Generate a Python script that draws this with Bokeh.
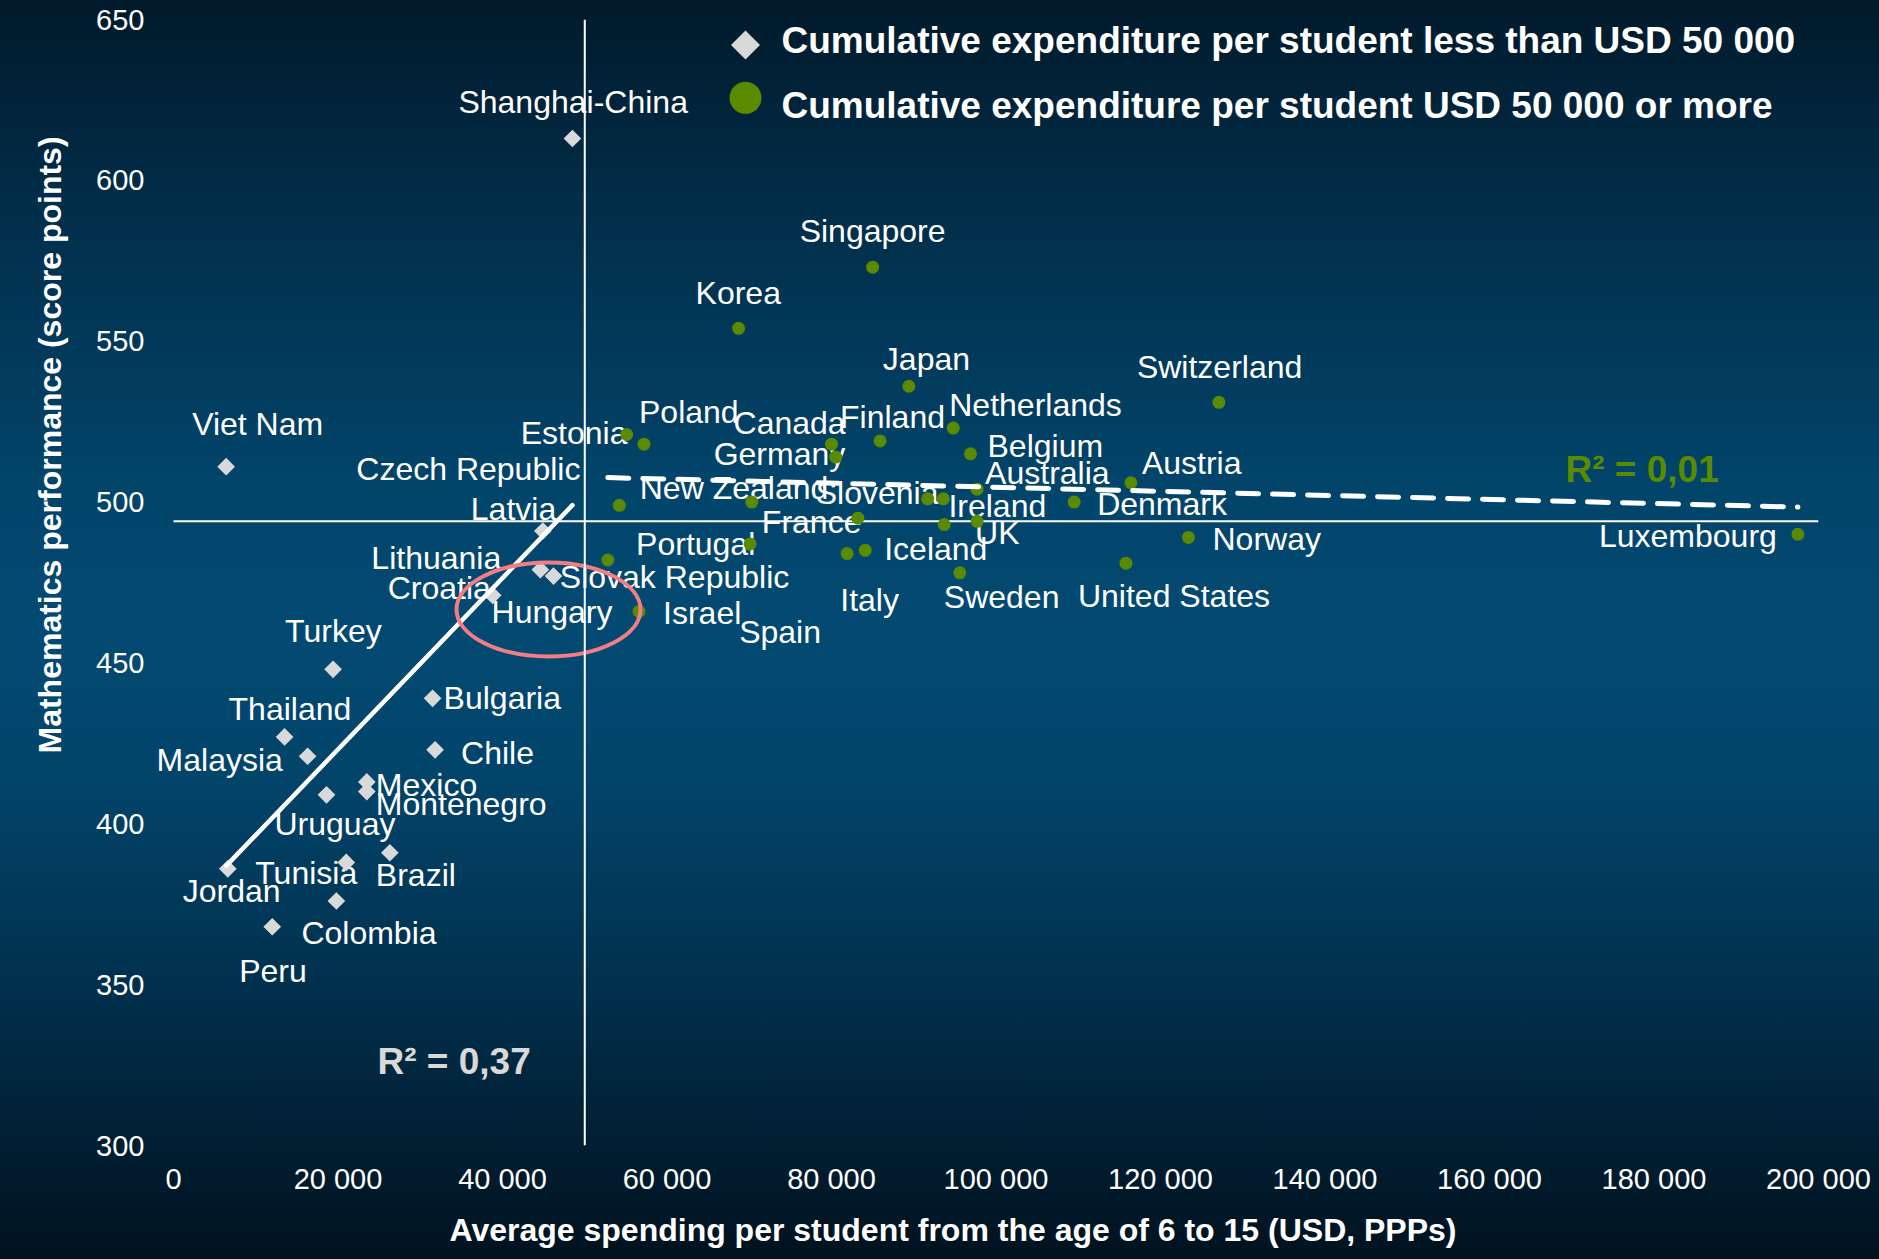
import numpy as np
from bokeh.plotting import figure
from bokeh.models import (ColumnDataSource, Range1d, FixedTicker, Span, Label, Title,
                          InlineStyleSheet)
from bokeh.core.properties import value
from bokeh.embed import file_html
from bokeh.resources import INLINE

# ---------------- data ----------------
# Countries whose cumulative spending per student is below USD 50 000
names_low = ["Shanghai-China", "Viet Nam", "Latvia", "Lithuania", "Hungary", "Croatia",
             "Turkey", "Bulgaria", "Thailand", "Chile", "Malaysia", "Mexico", "Montenegro",
             "Uruguay", "Brazil", "Tunisia", "Jordan", "Colombia", "Peru"]
spend_low = [48500, 6400, 44900, 44600, 46200, 38800, 19400, 31500, 13500, 31800,
             16300, 23500, 23500, 18600, 26300, 21000, 6600, 19800, 12000]
score_low = [613, 511, 491, 479, 477, 471, 448, 439, 427, 423,
             421, 413, 410, 409, 391, 388, 386, 376, 368]

# Countries spending USD 50 000 or more
names_high = ["Czech Republic", "Slovak Republic", "Israel", "Estonia", "Poland", "Canada",
              "Finland", "Netherlands", "Germany", "Belgium", "Australia", "Austria",
              "New Zealand", "Slovenia", "Ireland", "Denmark", "France", "UK", "Portugal",
              "Iceland", "Italy", "Spain", "Sweden", "United States", "Norway", "Luxembourg",
              "Switzerland", "Japan", "Korea", "Singapore"]
spend_high = [54200, 52800, 56600, 55100, 57200, 80000, 85900, 94800, 80500, 96900,
              97700, 116400, 70300, 91700, 93600, 109500, 83200, 97700, 70100, 93700,
              84100, 81900, 95600, 115800, 123400, 197500, 127100, 89400, 68700, 85000]
score_high = [499, 482, 466, 521, 518, 518, 519, 523, 514, 515,
              504, 506, 500, 501, 501, 500, 495, 494, 487, 493,
              485, 484, 478, 481, 489, 490, 531, 536, 554, 573]

oecd_average = 494
spend_threshold = 50000
x_ticks = list(range(0, 200001, 20000))
y_ticks = list(range(300, 651, 50))
legend_labels = ["Cumulative expenditure per student less than USD 50 000",
                 "Cumulative expenditure per student USD 50 000 or more"]
r2_labels = ["R\u00b2 = 0,37", "R\u00b2 = 0,01"]
x_title = "Average spending per student from the age of 6 to 15 (USD, PPPs)"
y_title = "Mathematics performance (score points)"

# ---------------- label placement (pixel offsets from each point) ----------------
dx_low = [-114, -34, -72, -169, -62, -105, -48, 11, -56, 26, -151, 9, 9, -52, -14, -91, -45, -35, -33]
dy_low = [37, 43, 22, 12, -36, 7, 38, 0, 28, -3, -4, -3, -12, -29, -22, -11, -22, -32, -44]
dx_high = [-263, -48, 24, -106, -5, -98, -40, -4, -122, 17, 8, 11, -112, -112, 5, 23, -96, -2,
           -114, -60, -25, -108, -16, -48, 24, -199, -82, -26, -43, -73]
dy_high = [36, -17, -2, 2, 32, 21, 24, 23, 3, 8, 16, 20, 14, 6, -7, -2, -4, -12,
           0, -24, -50, -78, -24, -33, -2, -2, 35, 27, 35, 36]

# ---------------- layout ----------------
W, H = 1879, 1259
BL, BR, BT, BB = 150, 61, 19, 112          # frame edges: 150 .. 1818 (x), 19 .. 1147 (y)
X0, X1, Y0, Y1 = -2800, 200000, 300, 650   # a little room left of 0 for long names
FW, FH = W - BL - BR, H - BT - BB

FONT_NAME = "Liberation Sans"
FONT = value(FONT_NAME)
WHITE = "#ffffff"
GREY = "#d9d9d9"
GREEN = "#5a8a00"
PINK = "#f27d85"


def data_x(px):
    return X0 + (px - BL) / FW * (X1 - X0)


def data_y(py):
    return Y1 - (py - BT) / FH * (Y1 - Y0)


def fit_line(xs, ys):
    xs = np.asarray(xs, dtype=float)
    ys = np.asarray(ys, dtype=float)
    slope, intercept = np.polyfit(xs, ys, 1)
    ends = np.array([xs.min(), xs.max()])
    return ends, slope * ends + intercept


def add_label(px, py, text, size, color):
    p.add_layout(Label(x=data_x(px), y=data_y(py), text=text, text_font=FONT_NAME,
                       text_font_size=size, text_font_style="bold",
                       text_color=color, text_align="left", text_baseline="middle"))


background = InlineStyleSheet(css="""
:host {
  background: linear-gradient(to bottom,
     #011a2b 0%, #022e4a 17%, #02446a 38%, #034a72 50%,
     #02446a 62%, #012e4a 80%, #011d30 92%, #01121f 100%);
}
""")

p = figure(width=W, height=H, output_backend="svg", toolbar_location=None,
           x_range=Range1d(X0, X1), y_range=Range1d(Y0, Y1),
           min_border_left=BL, min_border_right=BR, min_border_top=BT, min_border_bottom=BB,
           stylesheets=[background])
p.background_fill_alpha = 0
p.border_fill_alpha = 0
p.outline_line_color = None
p.grid.visible = False

for ax in (p.xaxis[0], p.yaxis[0]):
    ax.axis_line_color = None
    ax.major_tick_line_color = None
    ax.minor_tick_line_color = None
    ax.major_tick_out = 0
    ax.major_tick_in = 0
    ax.minor_tick_out = 0
    ax.major_label_text_font = FONT_NAME
    ax.major_label_text_font_size = "29px"
    ax.major_label_text_color = WHITE

p.xaxis.ticker = FixedTicker(ticks=x_ticks)
p.xaxis.major_label_overrides = {t: f"{t:,}".replace(",", " ") for t in x_ticks}
p.xaxis.major_label_standoff = 17
p.yaxis.ticker = FixedTicker(ticks=y_ticks)
p.yaxis.major_label_standoff = 6

# axis titles
p.add_layout(Title(text=x_title, align="left", offset=299, standoff=24,
                   text_font=FONT_NAME, text_font_size="32px", text_font_style="bold",
                   text_color=WHITE), "below")
p.add_layout(Title(text=y_title, align="left", offset=392, standoff=51,
                   text_font=FONT_NAME, text_font_size="32px", text_font_style="bold",
                   text_color=WHITE), "left")

# country names (drawn first so marks and lines sit on top)
src_low = ColumnDataSource(dict(x=spend_low, y=score_low, name=names_low,
                                dx=dx_low, dy=[-d for d in dy_low]))
src_high = ColumnDataSource(dict(x=spend_high, y=score_high, name=names_high,
                                 dx=dx_high, dy=[-d for d in dy_high]))
for src in (src_low, src_high):
    p.text(x="x", y="y", text="name", x_offset="dx", y_offset="dy", source=src,
           text_font=FONT, text_font_size="32px", text_color=WHITE,
           text_align="left", text_baseline="middle")

# reference lines: OECD average score and the USD 50 000 threshold
p.line([x_ticks[0], x_ticks[-1]], [oecd_average, oecd_average], line_color=WHITE, line_width=2)
p.add_layout(Span(location=spend_threshold, dimension="height", line_color=WHITE, line_width=2))

# markers
p.scatter(x="x", y="y", source=src_low, marker="square", angle=np.pi / 4,
          size=12.5, fill_color=GREY, line_color=None)
p.scatter(x="x", y="y", source=src_high, marker="circle",
          size=13, fill_color=GREEN, line_color=None)

# linear trends for each group
tx, ty = fit_line(spend_low, score_low)
p.line(tx, ty, line_color=WHITE, line_width=4.5, line_cap="round")
tx, ty = fit_line(spend_high, score_high)
p.line(tx, ty, line_color=WHITE, line_width=5, line_dash="21 14", line_cap="round")

# highlight around Hungary
p.ellipse(x=[data_x(548)], y=[data_y(610)], width=184, height=94,
          width_units="screen", height_units="screen",
          fill_color=None, line_color=PINK, line_width=4)

# R-squared annotations
add_label(377, 1063, r2_labels[0], "37px", GREY)
add_label(1565, 470, r2_labels[1], "37px", GREEN)

# legend keys and texts
p.scatter(x=[data_x(745)], y=[data_y(44.5)], marker="square", angle=np.pi / 4,
          size=20.5, fill_color=GREY, line_color=None)
p.scatter(x=[data_x(745)], y=[data_y(97.5)], marker="circle",
          size=32, fill_color=GREEN, line_color=None)
for text, py in zip(legend_labels, (40, 105.5)):
    add_label(781, py, text, "37px", WHITE)

open("out.html", "w").write(file_html(p, INLINE))
